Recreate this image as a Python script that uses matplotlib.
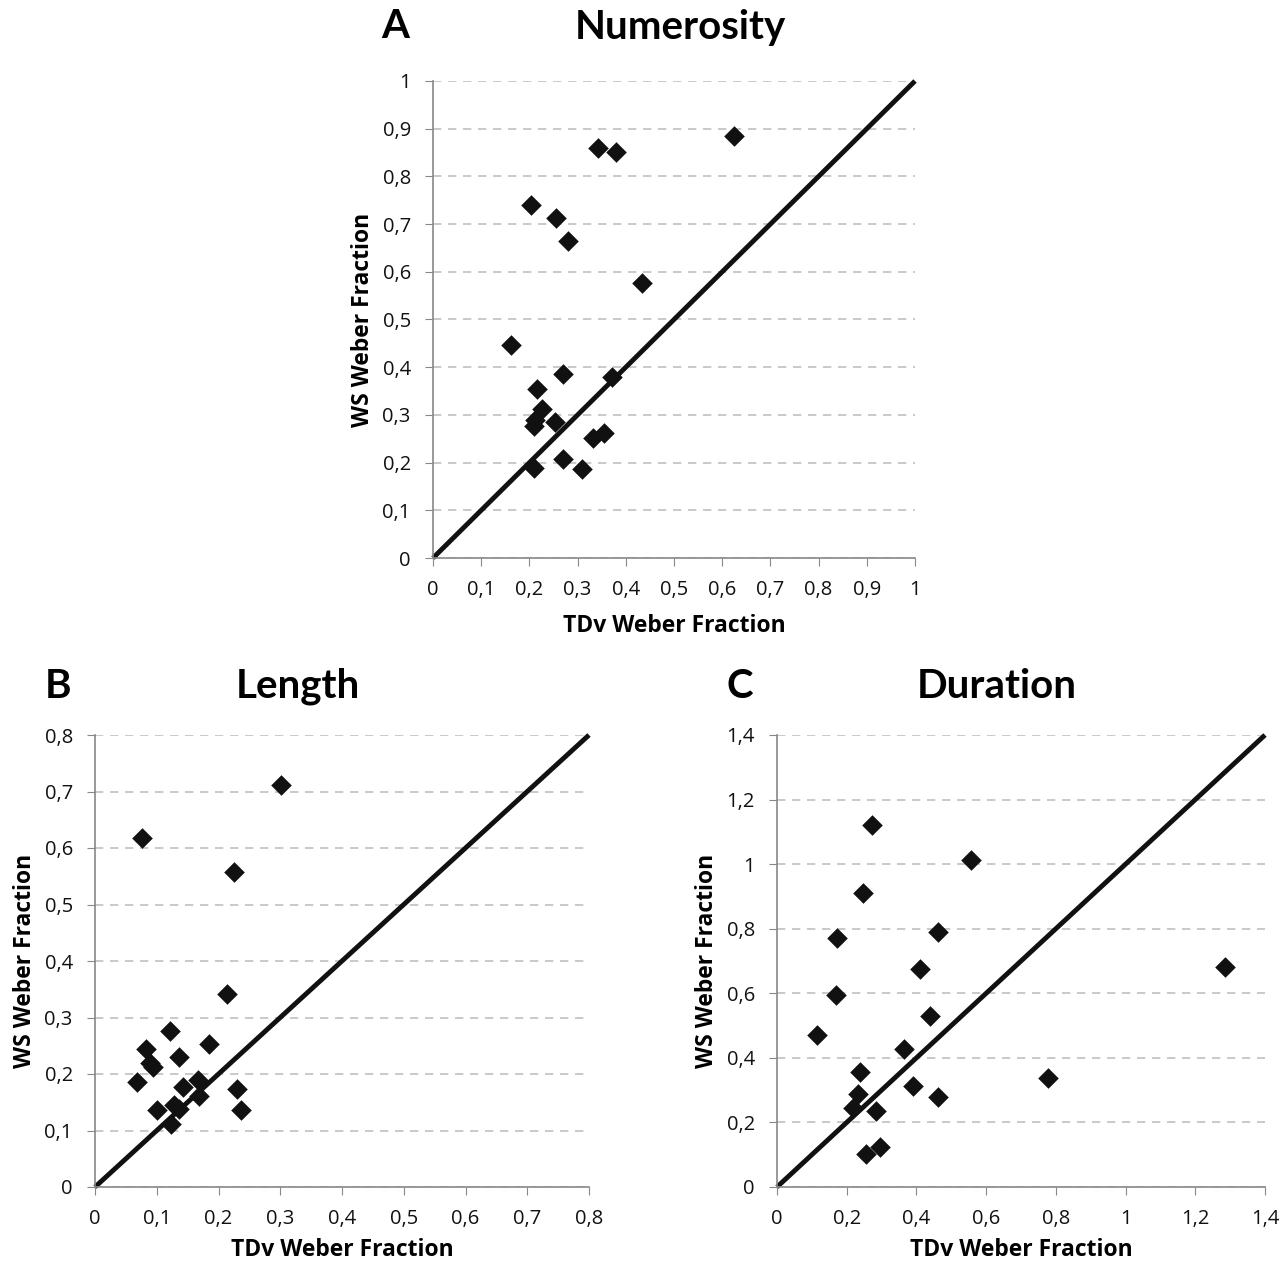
import matplotlib
matplotlib.use("Agg")
import matplotlib.pyplot as plt
from matplotlib.ticker import FuncFormatter, MultipleLocator

plt.rcParams['font.family'] = ['Open Sans', 'DejaVu Sans']

# Panel A: Numerosity
num_tdv = [0.162, 0.203, 0.255, 0.280, 0.342, 0.380, 0.624, 0.434, 0.371, 0.216,
           0.270, 0.226, 0.212, 0.210, 0.253, 0.332, 0.355, 0.210, 0.270, 0.309]
num_ws = [0.447, 0.740, 0.713, 0.665, 0.860, 0.851, 0.885, 0.577, 0.379, 0.354,
          0.386, 0.312, 0.289, 0.277, 0.285, 0.252, 0.262, 0.189, 0.208, 0.187]

# Panel B: Length
len_tdv = [0.076, 0.225, 0.301, 0.214, 0.121, 0.185, 0.083, 0.136, 0.089, 0.094,
           0.068, 0.167, 0.143, 0.230, 0.168, 0.128, 0.136, 0.100, 0.236, 0.123]
len_ws = [0.618, 0.558, 0.712, 0.342, 0.276, 0.253, 0.244, 0.230, 0.219, 0.212,
          0.186, 0.189, 0.177, 0.173, 0.161, 0.145, 0.138, 0.136, 0.136, 0.112]

# Panel C: Duration
dur_tdv = [0.273, 0.556, 0.246, 0.172, 0.462, 0.411, 0.170, 0.115, 0.439, 0.363,
           0.239, 0.232, 0.389, 0.462, 0.219, 0.284, 0.254, 0.296, 0.777, 1.285]
dur_ws = [1.121, 1.013, 0.911, 0.771, 0.790, 0.675, 0.595, 0.471, 0.530, 0.427,
          0.356, 0.288, 0.313, 0.279, 0.245, 0.236, 0.102, 0.124, 0.338, 0.681]

fig = plt.figure(figsize=(12.86, 12.65), dpi=100)

def fmt(v, pos):
    s = f"{v:.1f}".rstrip('0').rstrip('.') if v != 0 else "0"
    return s.replace('.', ',')

def panel(rect, xs, ys, lim, step, title, letter, letter_x, title_x, title_y, xpad):
    ax = fig.add_axes(rect)
    ax.set_xlim(0, lim)
    ax.set_ylim(0, lim)
    ax.xaxis.set_major_locator(MultipleLocator(step))
    ax.yaxis.set_major_locator(MultipleLocator(step))
    ax.xaxis.set_major_formatter(FuncFormatter(fmt))
    ax.yaxis.set_major_formatter(FuncFormatter(fmt))
    ax.yaxis.grid(True, linestyle=(0, (5, 4)), color='#c0c0c0', linewidth=1.2)
    ax.set_axisbelow(True)
    for s in ['top', 'right']:
        ax.spines[s].set_visible(False)
    for s in ['left', 'bottom']:
        ax.spines[s].set_color('#888888')
        ax.spines[s].set_linewidth(1.2)
    ax.tick_params(axis='both', direction='out', length=6, color='#888888',
                   labelsize=14.5, labelcolor='#111111')
    ax.tick_params(axis='x', pad=10)
    ax.tick_params(axis='y', pad=10)
    ax.plot([0, lim], [0, lim], color='#111111', linewidth=3.5, zorder=2,
            solid_capstyle='butt', clip_on=False)
    ax.scatter(xs, ys, marker='D', s=110, color='#111111', zorder=3, linewidths=0)
    ax.set_xlabel('TDv Weber Fraction', fontsize=16.5, fontweight='bold', labelpad=xpad)
    ax.set_ylabel('WS Weber Fraction', fontsize=16.5, fontweight='bold', labelpad=5)
    fig.text(letter_x, title_y, letter, fontsize=29, fontweight='bold',
             ha='center', va='center', family=['Lato', 'DejaVu Sans'])
    fig.text(title_x, title_y, title, fontsize=29, fontweight='bold',
             ha='center', va='center', family=['Lato', 'DejaVu Sans'])
    return ax

H = 1265.0
W = 1286.0
panel([433 / W, 1 - 558 / H, 482 / W, 477 / H], num_tdv, num_ws, 1.0, 0.1,
      'Numerosity', 'A', 395 / W, 680 / W, 1 - 27 / H, 10)
panel([95 / W, 1 - 1187 / H, 494 / W, 452 / H], len_tdv, len_ws, 0.8, 0.1,
      'Length', 'B', 58 / W, 298 / W, 1 - 686 / H, 6)
panel([777 / W, 1 - 1187 / H, 488 / W, 452 / H], dur_tdv, dur_ws, 1.4, 0.2,
      'Duration', 'C', 740 / W, 997 / W, 1 - 686 / H, 6)

fig.savefig('out.png', dpi=100, facecolor='white')
